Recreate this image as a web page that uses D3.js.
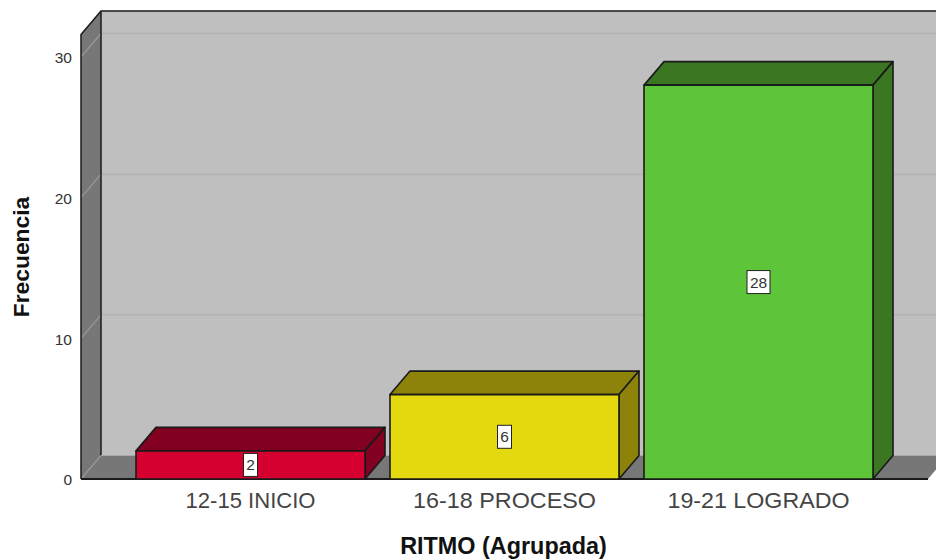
<!DOCTYPE html>
<html>
<head>
<meta charset="utf-8">
<script src="https://cdn.jsdelivr.net/npm/d3@7"></script>
<style>
  html, body { margin: 0; padding: 0; background: #fff; }
  svg { display: block; }
  text { font-family: "Liberation Sans", Arial, sans-serif; }
</style>
</head>
<body>
<div id="chart"></div>
<script>
var categories = ["12-15 INICIO", "16-18 PROCESO", "19-21 LOGRADO"];
var counts = [2, 6, 28];
var frontColors = ["#d5002f", "#e4d90f", "#5ec43a"];
var darkColors = ["#820020", "#8e830a", "#3b7623"];
var yTicks = [0, 10, 20, 30];

var width = 936, height = 560;
var dx = 20, dy = -23.5;   // depth of the 3d box
var left = 81, right = 928, base = 479, top_ = 34.5;
var labelWidths = [130, 183, 182];   // the source font runs wider than Liberation

var svg = d3.select("#chart").append("svg")
  .attr("width", width)
  .attr("height", height);

var y = d3.scaleLinear().domain([0, 31.6]).range([base, top_]);
var x = d3.scaleBand().domain(categories).range([123.5, 885.5])
  .paddingInner(25 / 254).paddingOuter(12.5 / 254);

function poly(pts) { return pts.map(function(p) { return p.join(","); }).join(" "); }

// back wall
svg.append("polygon")
  .attr("points", poly([[left + dx, top_ + dy], [right + dx, top_ + dy], [right + dx, base + dy], [left + dx, base + dy]]))
  .attr("fill", "#bfbfbf");

// side wall and floor
svg.append("polygon")
  .attr("points", poly([[left, top_], [left + dx, top_ + dy], [left + dx, base + dy], [left, base]]))
  .attr("fill", "#777777");
svg.append("polygon")
  .attr("points", poly([[left, base], [left + dx, base + dy], [right + dx, base + dy], [right, base]]))
  .attr("fill", "#777777");

// grid lines
svg.selectAll("line.back").data(yTicks.slice(1)).enter().append("line")
  .attr("class", "back")
  .attr("x1", left + dx).attr("x2", right + dx)
  .attr("y1", function(d) { return y(d) + dy; })
  .attr("y2", function(d) { return y(d) + dy; })
  .attr("stroke", "#b4b4b4").attr("stroke-width", 2);
svg.selectAll("line.side").data(yTicks).enter().append("line")
  .attr("class", "side")
  .attr("x1", left).attr("x2", left + dx)
  .attr("y1", function(d) { return y(d); })
  .attr("y2", function(d) { return y(d) + dy; })
  .attr("stroke", "#999999").attr("stroke-width", 1.2);

// wall outlines
svg.append("polyline")
  .attr("points", poly([[left, base], [left, top_], [left + dx, top_ + dy], [right + dx, top_ + dy]]))
  .attr("fill", "none").attr("stroke", "#1a1a1a").attr("stroke-width", 1.5);
svg.append("polyline")
  .attr("points", poly([[left + dx, top_ + dy], [left + dx, base + dy]]))
  .attr("fill", "none").attr("stroke", "#1a1a1a").attr("stroke-width", 1.5);
svg.append("line")
  .attr("x1", left + dx).attr("x2", right + dx)
  .attr("y1", base + dy).attr("y2", base + dy)
  .attr("stroke", "#a8a8a8").attr("stroke-width", 1);
svg.append("line")
  .attr("x1", left).attr("x2", right)
  .attr("y1", base).attr("y2", base)
  .attr("stroke", "#1a1a1a").attr("stroke-width", 2);

// bars
var bars = svg.selectAll("g.bar").data(categories).enter().append("g").attr("class", "bar");

bars.append("polygon")
  .attr("points", function(d, i) {
    var x0 = x(d), x1 = x0 + x.bandwidth(), t = y(counts[i]);
    return poly([[x0, t], [x0 + dx, t + dy], [x1 + dx, t + dy], [x1, t]]);
  })
  .attr("fill", function(d, i) { return darkColors[i]; });
bars.append("polygon")
  .attr("points", function(d, i) {
    var x1 = x(d) + x.bandwidth(), t = y(counts[i]);
    return poly([[x1, t], [x1 + dx, t + dy], [x1 + dx, base + dy], [x1, base]]);
  })
  .attr("fill", function(d, i) { return darkColors[i]; });
bars.append("rect")
  .attr("x", function(d) { return x(d); })
  .attr("y", function(d, i) { return y(counts[i]); })
  .attr("width", x.bandwidth())
  .attr("height", function(d, i) { return base - y(counts[i]); })
  .attr("fill", function(d, i) { return frontColors[i]; });
bars.selectAll("polygon, rect")
  .attr("stroke", "#1a1a1a").attr("stroke-width", 1.6).attr("stroke-linejoin", "round");

// value labels
bars.append("rect")
  .attr("x", function(d, i) { return x(d) + x.bandwidth() / 2 - (counts[i] > 9 ? 11.5 : 7); })
  .attr("y", function(d, i) { return y(counts[i] / 2) - 11.5; })
  .attr("width", function(d, i) { return counts[i] > 9 ? 23 : 14; })
  .attr("height", 23)
  .attr("fill", "#fff")
  .attr("stroke", "#222").attr("stroke-width", 1);
bars.append("text")
  .attr("x", function(d) { return x(d) + x.bandwidth() / 2; })
  .attr("y", function(d, i) { return y(counts[i] / 2) + 5.5; })
  .attr("text-anchor", "middle")
  .attr("font-size", 15.5)
  .attr("fill", "#333")
  .text(function(d, i) { return counts[i]; });

// axes
var yAxis = svg.append("g")
  .attr("transform", "translate(" + left + ",1)")
  .call(d3.axisLeft(y).tickValues(yTicks).tickSize(0).tickPadding(9));
yAxis.select(".domain").remove();
yAxis.selectAll("text")
  .attr("font-size", 15.5)
  .style("font-family", '"Liberation Sans", Arial, sans-serif')
  .attr("fill", "#333");

var xAxis = svg.append("g")
  .attr("transform", "translate(0," + base + ")")
  .call(d3.axisBottom(x).tickSize(0).tickPadding(13));
xAxis.select(".domain").remove();
xAxis.selectAll("text")
  .attr("font-size", 22)
  .attr("textLength", function(d, i) { return labelWidths[i]; })
  .attr("lengthAdjust", "spacingAndGlyphs")
  .style("font-family", '"Liberation Sans", Arial, sans-serif')
  .attr("fill", "#444");

svg.append("text")
  .attr("x", 503.5).attr("y", 554)
  .attr("text-anchor", "middle")
  .attr("font-size", 23.4).attr("font-weight", "bold")
  .attr("fill", "#111")
  .text("RITMO (Agrupada)");
svg.append("text")
  .attr("transform", "translate(29,257) rotate(-90)")
  .attr("text-anchor", "middle")
  .attr("font-size", 22.8).attr("font-weight", "bold")
  .attr("fill", "#111")
  .text("Frecuencia");
</script>
</body>
</html>
